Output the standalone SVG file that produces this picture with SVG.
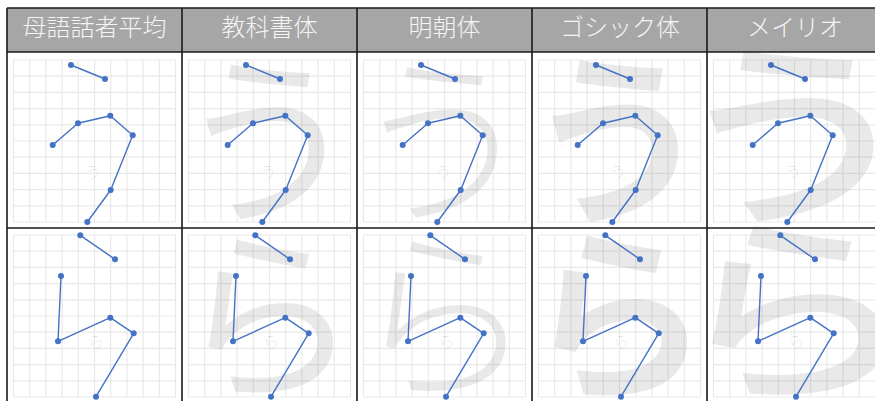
<svg xmlns="http://www.w3.org/2000/svg" xmlns:xlink="http://www.w3.org/1999/xlink" width="875" height="401" viewBox="0 0 875 401">
<style>
.hdr{fill:#a6a6a6}
.htxt{font-family:"Noto Sans CJK JP","Noto Sans CJK SC",sans-serif;font-size:24px;fill:#f4f4f4;text-anchor:middle;font-weight:300}
.border{stroke:#1a1a1a;stroke-width:1.6;fill:none}
.grid{stroke:#000;stroke-opacity:0.09;stroke-width:1.2;fill:none}
.big{font-family:"Noto Sans CJK JP","Noto Sans CJK SC",sans-serif;fill:#000;fill-opacity:0.085;text-anchor:middle}
.faint{font-family:"Noto Sans CJK JP",sans-serif;font-size:16px;fill:#000;fill-opacity:0.12;text-anchor:middle;font-weight:300}
.stroke{stroke:#4472c4;stroke-width:1.4;fill:none;stroke-linejoin:round}
.dot{fill:#4472c4}
</style>
<defs>
<path id="grid" class="grid" d="M0 0H162M0 16.2H162M0 32.4H162M0 48.6H162M0 64.8H162M0 81H162M0 97.2H162M0 113.4H162M0 129.6H162M0 145.8H162M0 162H162M0 0V162M16.2 0V162M32.4 0V162M48.6 0V162M64.8 0V162M81 0V162M97.2 0V162M113.4 0V162M129.6 0V162M145.8 0V162M162 0V162"/>
<g id="u-strokes">
<polyline class="stroke" points="71,65 105,79"/>
<polyline class="stroke" points="52.7,145 78,123.3 110.3,115.7 132.7,135.3 110.7,190 87.3,222"/>
<circle class="dot" cx="71" cy="65" r="3"/><circle class="dot" cx="105" cy="79" r="3"/>
<circle class="dot" cx="52.7" cy="145" r="3"/><circle class="dot" cx="78" cy="123.3" r="3"/><circle class="dot" cx="110.3" cy="115.7" r="3"/><circle class="dot" cx="132.7" cy="135.3" r="3"/><circle class="dot" cx="110.7" cy="190" r="3"/><circle class="dot" cx="87.3" cy="222" r="3"/>
</g>
<g id="ra-strokes">
<polyline class="stroke" points="80.3,235.3 115,259.3"/>
<polyline class="stroke" points="61,276 58,341.3 110.3,317.7 133.7,333.3 96,396.7"/>
<circle class="dot" cx="80.3" cy="235.3" r="3"/><circle class="dot" cx="115" cy="259.3" r="3"/>
<circle class="dot" cx="61" cy="276" r="3"/><circle class="dot" cx="58" cy="341.3" r="3"/><circle class="dot" cx="110.3" cy="317.7" r="3"/><circle class="dot" cx="133.7" cy="333.3" r="3"/><circle class="dot" cx="96" cy="396.7" r="3"/>
</g>
</defs>

<g id="header">
<rect class="hdr" x="7" y="8" width="875" height="44"/>
<text class="htxt" x="94.5" y="36">母語話者平均</text>
<text class="htxt" x="269.5" y="36">教科書体</text>
<text class="htxt" x="444.5" y="36">明朝体</text>
<text class="htxt" x="620" y="36">ゴシック体</text>
<text class="htxt" x="795" y="36">メイリオ</text>
</g>

<g id="cell-u-average">
<use xlink:href="#grid" x="13.5" y="60"/>
<text class="faint" x="93" y="178" transform="rotate(-10 93 172)">う</text>
<use xlink:href="#u-strokes"/>
</g>
<g id="cell-u-kyokasho">
<use xlink:href="#grid" x="188.5" y="60"/>
<text class="big" x="268" y="210" font-size="185" font-weight="400">う</text>
<text class="faint" x="268" y="178" transform="rotate(-10 268 172)">う</text>
<use xlink:href="#u-strokes" x="175"/>
</g>
<g id="cell-u-mincho">
<use xlink:href="#grid" x="363.5" y="60"/>
<text class="big" x="443" y="210" font-size="185" font-weight="300">う</text>
<text class="faint" x="443" y="178" transform="rotate(-10 443 172)">う</text>
<use xlink:href="#u-strokes" x="350"/>
</g>
<g id="cell-u-gothic">
<use xlink:href="#grid" x="538.5" y="60"/>
<text class="big" x="618" y="210" font-size="185" font-weight="700">う</text>
<text class="faint" x="618" y="178" transform="rotate(-10 618 172)">う</text>
<use xlink:href="#u-strokes" x="525"/>
</g>
<g id="cell-u-meiryo">
<use xlink:href="#grid" x="713.5" y="60"/>
<text class="big" x="795" y="210" font-size="200" font-weight="500" transform="translate(795 0) scale(1.25 1) translate(-795 0)">う</text>
<text class="faint" x="793" y="178" transform="rotate(-10 793 172)">う</text>
<use xlink:href="#u-strokes" x="700"/>
</g>

<g id="cell-ra-average">
<use xlink:href="#grid" x="13.5" y="235"/>
<text class="faint" x="96" y="348" transform="rotate(-15 96 341)">ら</text>
<use xlink:href="#ra-strokes"/>
</g>
<g id="cell-ra-kyokasho">
<use xlink:href="#grid" x="188.5" y="235"/>
<text class="big" x="268" y="385" font-size="185" font-weight="400">ら</text>
<text class="faint" x="271" y="348" transform="rotate(-15 271 341)">ら</text>
<use xlink:href="#ra-strokes" x="175"/>
</g>
<g id="cell-ra-mincho">
<use xlink:href="#grid" x="363.5" y="235"/>
<text class="big" x="443" y="385" font-size="185" font-weight="300">ら</text>
<text class="faint" x="446" y="348" transform="rotate(-15 446 341)">ら</text>
<use xlink:href="#ra-strokes" x="350"/>
</g>
<g id="cell-ra-gothic">
<use xlink:href="#grid" x="538.5" y="235"/>
<text class="big" x="618" y="385" font-size="185" font-weight="700">ら</text>
<text class="faint" x="621" y="348" transform="rotate(-15 621 341)">ら</text>
<use xlink:href="#ra-strokes" x="525"/>
</g>
<g id="cell-ra-meiryo">
<use xlink:href="#grid" x="713.5" y="235"/>
<text class="big" x="795" y="385" font-size="200" font-weight="500" transform="translate(795 0) scale(1.25 1) translate(-795 0)">ら</text>
<text class="faint" x="796" y="348" transform="rotate(-15 796 341)">ら</text>
<use xlink:href="#ra-strokes" x="700"/>
</g>

<g id="table-lines">
<path class="border" d="M7 8H875M7 52H875M7 228H875M7 8V401M182 8V401M357 8V401M532 8V401M707 8V401"/>
</g>
</svg>
